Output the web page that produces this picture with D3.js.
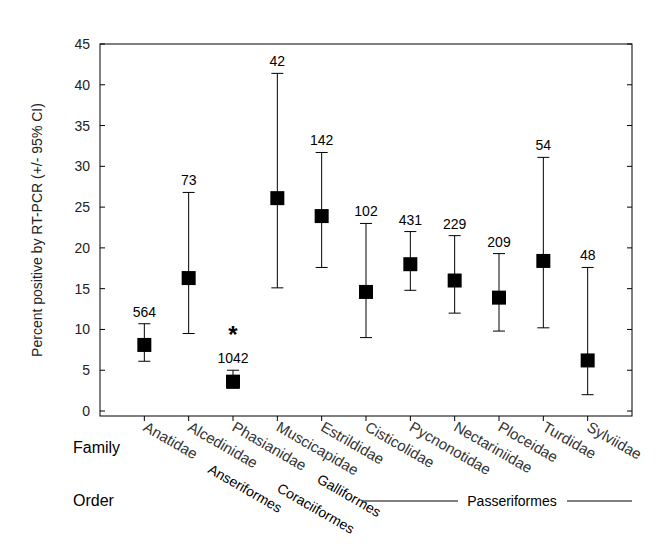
<!DOCTYPE html>
<html>
<head>
<meta charset="utf-8">
<script src="https://cdn.jsdelivr.net/npm/d3@7/dist/d3.min.js"></script>
<style>body{margin:0;background:#fff}</style>
</head>
<body>
<script>
var families = ['Anatidae','Alcedinidae','Phasianidae','Muscicapidae','Estrildidae','Cisticolidae','Pycnonotidae','Nectariniidae','Ploceidae','Turdidae','Sylviidae'];
var means = [8.1, 16.3, 3.6, 26.1, 23.9, 14.6, 18.0, 16.0, 13.9, 18.4, 6.2];
var lower = [6.1, 9.5, 2.8, 15.1, 17.6, 9.0, 14.8, 12.0, 9.8, 10.2, 2.0];
var upper = [10.7, 26.8, 5.0, 41.4, 31.7, 23.0, 22.0, 21.5, 19.3, 31.1, 17.6];
var sampleSizes = ['564','73','1042','42','142','102','431','229','209','54','48'];
var yTicks = [0,5,10,15,20,25,30,35,40,45];

var W = 672, H = 547;
var svg = d3.select('body').append('svg').attr('width', W).attr('height', H)
  .style('font-family', 'Liberation Sans, Arial, sans-serif');

var x = d3.scaleLinear().domain([0, 12]).range([100, 632]);
var y = d3.scaleLinear().domain([0, 45]).range([411, 44]);

// frame
svg.append('rect').attr('x', 100).attr('y', 44).attr('width', 532).attr('height', 372)
  .attr('fill', 'none').attr('stroke', '#000');

// y axis
svg.append('g').attr('transform', 'translate(100,0)')
  .call(d3.axisLeft(y).tickValues(yTicks).tickSize(0).tickPadding(10))
  .call(function(g){ g.select('.domain').remove(); })
  .selectAll('text').attr('font-size', 14).attr('fill', '#222');
svg.selectAll('.yt').data(yTicks).enter().append('line')
  .attr('x1', 100).attr('x2', 105).attr('y1', function(d){return y(d);}).attr('y2', function(d){return y(d);}).attr('stroke', '#000');
svg.selectAll('.yt2').data(yTicks).enter().append('line')
  .attr('x1', 627).attr('x2', 632).attr('y1', function(d){return y(d);}).attr('y2', function(d){return y(d);}).attr('stroke', '#000');

// x ticks
svg.selectAll('.xt').data(d3.range(1, 12)).enter().append('line')
  .attr('x1', function(d){return x(d);}).attr('x2', function(d){return x(d);})
  .attr('y1', 416).attr('y2', 421).attr('stroke', '#000');

svg.append('text').attr('transform', 'translate(42,230) rotate(-90)')
  .attr('text-anchor', 'middle').attr('font-size', 14).attr('fill', '#222')
  .text('Percent positive by RT-PCR (+/- 95% CI)');

// error bars
var g = svg.append('g');
families.forEach(function(f, i) {
  var cx = x(i + 1);
  g.append('line').attr('x1', cx).attr('x2', cx).attr('y1', y(lower[i])).attr('y2', y(upper[i])).attr('stroke', '#000');
  [lower[i], upper[i]].forEach(function(v) {
    g.append('line').attr('x1', cx - 6).attr('x2', cx + 6).attr('y1', y(v)).attr('y2', y(v)).attr('stroke', '#000');
  });
  g.append('rect').attr('x', cx - 7).attr('y', y(means[i]) - 7).attr('width', 14).attr('height', 14).attr('fill', '#000');
  g.append('text').attr('x', cx).attr('y', y(upper[i]) - 7).attr('text-anchor', 'middle')
    .attr('font-size', 14).text(sampleSizes[i]);
  g.append('text').attr('transform', 'translate(' + (cx - 2) + ',430) rotate(30)')
    .attr('font-size', 15).attr('fill', '#333').text(f);
});
svg.append('text').attr('x', x(3)).attr('y', 343).attr('text-anchor', 'middle')
  .attr('font-size', 24).attr('font-weight', 'bold').text('*');

svg.append('text').attr('x', 73).attr('y', 453).attr('font-size', 16).text('Family');
svg.append('text').attr('x', 73).attr('y', 506).attr('font-size', 16).text('Order');

var orders = [['Anseriformes', 207, 472], ['Coraciiformes', 276, 491], ['Galliformes', 316, 482]];
orders.forEach(function(o) {
  svg.append('text').attr('transform', 'translate(' + o[1] + ',' + o[2] + ') rotate(30)')
    .attr('font-size', 14).text(o[0]);
});
svg.append('text').attr('x', 512).attr('y', 506).attr('text-anchor', 'middle').attr('font-size', 14).text('Passeriformes');
svg.append('line').attr('x1', 363).attr('x2', 458).attr('y1', 501).attr('y2', 501).attr('stroke', '#000');
svg.append('line').attr('x1', 567).attr('x2', 632).attr('y1', 501).attr('y2', 501).attr('stroke', '#000');
</script>
</body>
</html>
